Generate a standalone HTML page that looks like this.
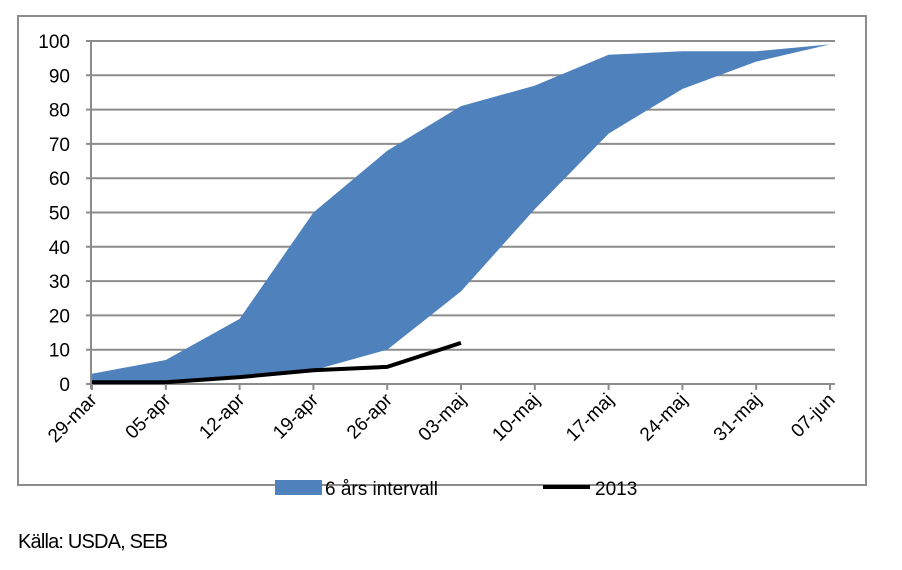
<!DOCTYPE html>
<html><head><meta charset="utf-8"><style>
body{margin:0;background:#fff;width:902px;height:565px;overflow:hidden;font-family:"Liberation Sans",sans-serif}
</style></head><body>
<svg id="c" width="902" height="565">
<rect x="18" y="16" width="848" height="469" fill="#fff" stroke="#8c8c8c" stroke-width="2"/>
<g id="grid"></g><g id="area"></g><g id="line"></g><g id="axes"></g>
<g>
<rect x="275" y="480" width="47" height="15" fill="#4f81bd"/>
<text x="325" y="495" font-size="19">6 års intervall</text>
<line x1="543" y1="487" x2="590" y2="487" stroke="#000" stroke-width="4"/>
<text x="595" y="495" font-size="19">2013</text>
</g>
<text x="18" y="548" font-size="20" textLength="150">Källa: USDA, SEB</text>
</svg>
<script>
const categories=["29-mar","05-apr","12-apr","19-apr","26-apr","03-maj","10-maj","17-maj","24-maj","31-maj","07-jun"];
const upper=[3,7,19,50,68,81,87,96,97,97,99];
const lower=[0,0,2,4,10,27,51,73,86,94,99];
const y2013=[0.5,0.5,2,4,5,12];
const yTicks=[0,10,20,30,40,50,60,70,80,90,100];
const NS="http://www.w3.org/2000/svg";
const X0=92,STEP=73.8,Y0=384,Y100=41;
const xs=i=>X0+i*STEP, ys=v=>Y0-(Y0-Y100)*v/100;
function mk(t,a,p){const e=document.createElementNS(NS,t);for(const k in a)e.setAttribute(k,a[k]);document.getElementById(p).appendChild(e);return e;}
yTicks.forEach(v=>{
 const g=mk('line',{x1:86,x2:835,y1:ys(v),y2:ys(v),stroke:'#8c8c8c','stroke-width':2},'grid');
 
 
 const t=mk('text',{x:70,y:ys(v)+7,'font-size':19,'text-anchor':'end'},'axes');t.textContent=v;
 
 
});
mk('line',{x1:91,x2:91,y1:Y100,y2:389,stroke:'#8c8c8c','stroke-width':2},'axes');
categories.forEach((c,i)=>{
 const x=xs(i);
 const tk=mk('line',{x1:x,x2:x,y1:384,y2:390,stroke:'#8c8c8c','stroke-width':2},'axes');
 
 
 const t=mk('text',{x:x+6,y:401,'font-size':19,'text-anchor':'end',transform:`rotate(-45 ${x+6} 401)`},'axes');t.textContent=c;
 
 
});
let pts=upper.map((v,i)=>xs(i)+','+ys(v));
for(let i=lower.length-1;i>=0;i--)pts.push(xs(i)+','+ys(lower[i]));
const a=mk('polygon',{points:pts.join(' '),fill:'#4f81bd'},'area');


const l=mk('polyline',{points:y2013.map((v,i)=>xs(i)+','+ys(v)).join(' '),fill:'none',stroke:'#000','stroke-width':4,'stroke-linejoin':'round'},'line');


</script>
</body></html>
